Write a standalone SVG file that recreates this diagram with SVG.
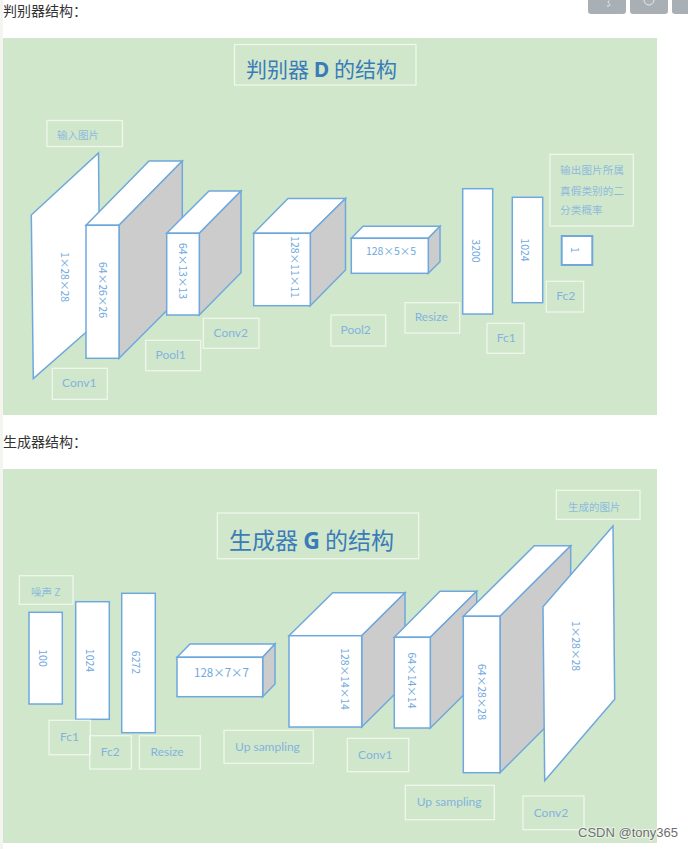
<svg xmlns="http://www.w3.org/2000/svg" width="688" height="849" viewBox="0 0 688 849">
<style>
.panel{fill:#d1e7cc}
.lbl{fill:none;stroke:#f1f7ee;stroke-width:1.2}
.s{stroke:#6fa8dc;stroke-width:1.5;stroke-linejoin:miter}
.w{fill:#fff}
.g{fill:#cccccc}
text{font-family:"Lato","Noto Sans CJK SC",sans-serif}
.t{font-size:12px;fill:#82b3de}
.c{font-size:10.5px;fill:#8cbbdc;font-family:"Noto Sans CJK SC",sans-serif}
.d{font-size:10.5px;fill:#6fa8dc;font-family:"Noto Sans CJK SC",sans-serif;text-anchor:middle;dominant-baseline:central}
.h{font-size:14px;fill:#333;font-family:"Noto Sans CJK SC",sans-serif}
.title{font-size:21px;fill:#3a7cb8;font-family:"Noto Sans CJK SC",sans-serif}
.title2{font-size:23px}
.b{font-weight:700}
.btn{fill:#a9b0b5}
</style>
<rect width="688" height="849" fill="#fff"/>
<rect width="3" height="849" fill="#f4f4f0"/>
<g id="toolbar">
<path class="btn" d="M588 0h38v11a3 3 0 0 1-3 3h-32a3 3 0 0 1-3-3z"/>
<path class="btn" d="M630 0h38v11a3 3 0 0 1-3 3h-32a3 3 0 0 1-3-3z"/>
<path class="btn" d="M672 0h16v14h-13a3 3 0 0 1-3-3z"/>
<path d="M609 0.5q-2 2 0 3t0 2.500h-2" fill="none" stroke="#e8eaec" stroke-width="1"/>
<path d="M644 0a5 5 0 0 0 10 0" fill="none" stroke="#e8eaec" stroke-width="1"/>
</g>
<text class="h" x="3" y="16">判别器结构：</text>
<text class="h" x="3" y="447">生成器结构：</text>
<rect class="panel" x="3" y="38" width="654" height="377"/>
<rect class="panel" x="3" y="469" width="654" height="374"/>

<g id="d-title"><rect class="lbl" x="234.500" y="44.500" width="181.500" height="40.500"/><text class="title" x="246" y="77">判别器 <tspan class="b" font-family="Open Sans">D</tspan> 的结构</text></g>
<g id="d-input"><rect class="lbl" x="47" y="120.500" width="75.500" height="26"/><text class="c" x="57" y="139">输入图片</text></g>
<g id="d-image"><polygon class="w s" points="31.300,215 98.500,153 100,320 33.300,378.500"/><text class="d" transform="rotate(90 65 277)" x="65" y="277">1×28×28</text></g>
<g id="d-conv1"><polygon class="w s" points="86,225.300 149,161 182.300,161 119,225.300"/><polygon class="g s" points="119,225.300 182.300,161 182.300,295 119,358.300"/><rect class="w s" x="86" y="225.300" width="33" height="133"/><text class="d" transform="rotate(90 103 290)" x="103" y="290">64×26×26</text></g>
<g id="d-pool1"><polygon class="w s" points="166.700,233.300 209,191 241,191 199.300,233.300"/><polygon class="g s" points="199.300,233.300 241,191 241,272.700 199.300,315"/><rect class="w s" x="166.700" y="233.300" width="32.600" height="81.700"/><text class="d" transform="rotate(90 183 271)" x="183" y="271">64×13×13</text></g>
<g id="d-conv2"><polygon class="w s" points="253.700,233.300 288,198.500 345.500,198.500 310.300,233.300"/><polygon class="g s" points="310.300,233.300 345.500,198.500 345.500,270 310.300,305.700"/><rect class="w s" x="253.700" y="233.300" width="56.600" height="72.400"/><text class="d" transform="rotate(90 295 267)" x="295" y="267">128×11×11</text></g>
<g id="d-pool2"><polygon class="w s" points="351.300,238.300 363,226.300 440,226.300 428.300,238.300"/><polygon class="g s" points="428.300,238.300 440,226.300 440,261.700 428.300,273.300"/><rect class="w s" x="351.300" y="238.300" width="77" height="35"/><text class="d" x="391" y="250">128×5×5</text></g>
<g id="d-3200"><rect class="w s" x="462.700" y="188.700" width="30" height="125.300"/><text class="d" transform="rotate(90 476 251)" x="476" y="251">3200</text></g>
<g id="d-1024"><rect class="w s" x="512.300" y="197.300" width="30.400" height="105.400"/><text class="d" transform="rotate(90 525 250)" x="525" y="250">1024</text></g>
<g id="d-1"><rect class="w s" x="561.700" y="236" width="30.600" height="29" style="stroke-width:2"/><text class="d" transform="rotate(90 575 250)" x="575" y="250">1</text></g>
<g id="d-output"><rect class="lbl" x="550" y="154.300" width="83.300" height="71.700"/><text class="c" x="560" y="174" style="letter-spacing:0.200px">输出图片所属</text><text class="c" x="560" y="195" style="letter-spacing:0.200px">真假类别的二</text><text class="c" x="560" y="214" style="letter-spacing:0.200px">分类概率</text></g>
<g id="d-l-conv1"><rect class="lbl" x="52.300" y="368.300" width="55" height="31"/><text class="t" x="62" y="387">Conv1</text></g>
<g id="d-l-pool1"><rect class="lbl" x="145.700" y="340.300" width="55" height="30.400"/><text class="t" x="155.500" y="359">Pool1</text></g>
<g id="d-l-conv2"><rect class="lbl" x="203.300" y="318.300" width="55.700" height="30"/><text class="t" x="213.500" y="337">Conv2</text></g>
<g id="d-l-pool2"><rect class="lbl" x="331" y="315" width="54.700" height="31"/><text class="t" x="340.500" y="334">Pool2</text></g>
<g id="d-l-resize"><rect class="lbl" x="405" y="302.700" width="54.700" height="30.300"/><text class="t" x="414.700" y="321">Resize</text></g>
<g id="d-l-fc1"><rect class="lbl" x="487" y="323.300" width="37" height="30"/><text class="t" x="496.700" y="342">Fc1</text></g>
<g id="d-l-fc2"><rect class="lbl" x="546.300" y="281.300" width="37.400" height="30.700"/><text class="t" x="556.300" y="300">Fc2</text></g>

<g id="g-title"><rect class="lbl" x="217.300" y="513" width="201.400" height="45.700"/><text class="title title2" x="229" y="549">生成器 <tspan class="b" font-family="Open Sans">G</tspan> 的结构</text></g>
<g id="g-noise"><rect class="lbl" x="19.300" y="575.700" width="53.700" height="28.600"/><text class="c" x="31" y="596">噪声 Z</text></g>
<g id="g-100"><rect class="w s" x="29" y="612.300" width="33.300" height="91.700"/><text class="d" transform="rotate(90 43.500 658)" x="43.500" y="658">100</text></g>
<g id="g-1024"><rect class="w s" x="75.700" y="601.700" width="33.600" height="117.600"/><text class="d" transform="rotate(90 90 660.500)" x="90" y="660.500">1024</text></g>
<g id="g-6272"><rect class="w s" x="121.700" y="593.300" width="33.600" height="139.400"/><text class="d" transform="rotate(90 136 662.500)" x="136" y="662.500">6272</text></g>
<g id="g-resize"><polygon class="w s" points="177,657.300 190,644 275,644 262.700,657.300"/><polygon class="g s" points="262.700,657.300 275,644 275,684 262.700,696.700"/><rect class="w s" x="177" y="657.300" width="85.700" height="39.400"/><text class="d" x="221.500" y="671.500" style="font-size:11.500px">128×7×7</text></g>
<g id="g-up1"><polygon class="w s" points="289,635.700 332.700,592.700 405,592.700 361.700,635.700"/><polygon class="g s" points="361.700,635.700 405,592.700 405,684 361.700,727"/><rect class="w s" x="289" y="635.700" width="72.700" height="91.300"/><text class="d" transform="rotate(90 345.500 679)" x="345.500" y="679">128×14×14</text></g>
<g id="g-conv1"><polygon class="w s" points="394.300,637.300 440,591.300 476.700,591.300 430.300,637.300"/><polygon class="g s" points="430.300,637.300 476.700,591.300 476.700,682 430.300,728"/><rect class="w s" x="394.300" y="637.300" width="36" height="90.700"/><text class="d" transform="rotate(90 412.500 680.500)" x="412.500" y="680.500">64×14×14</text></g>
<g id="g-up2"><polygon class="w s" points="463.300,616.300 534.300,545.700 570.700,545.700 500,616.300"/><polygon class="g s" points="500,616.300 570.700,545.700 570.700,702 500,772.700"/><rect class="w s" x="463.300" y="616.300" width="36.700" height="156.400"/><text class="d" transform="rotate(90 482.700 692)" x="482.700" y="692">64×28×28</text></g>
<g id="g-image"><polygon class="w s" points="543,606.700 613,526 614.700,699.300 544.700,780.700"/><text class="d" transform="rotate(90 576.500 646)" x="576.500" y="646">1×28×28</text></g>
<g id="g-output"><rect class="lbl" x="556.300" y="490.300" width="83.700" height="29"/><text class="c" x="568" y="511">生成的图片</text></g>
<g id="g-l-fc1"><rect class="lbl" x="49" y="720.300" width="41.300" height="34.400"/><text class="t" x="60" y="741">Fc1</text></g>
<g id="g-l-fc2"><rect class="lbl" x="89.700" y="735.700" width="41.600" height="33.300"/><text class="t" x="100.700" y="756">Fc2</text></g>
<g id="g-l-resize"><rect class="lbl" x="139.300" y="735.700" width="61" height="33.300"/><text class="t" x="150.500" y="756">Resize</text></g>
<g id="g-l-up1"><rect class="lbl" x="224" y="730.300" width="89.300" height="33"/><text class="t" x="235" y="751">Up sampling</text></g>
<g id="g-l-conv1"><rect class="lbl" x="347.300" y="738.300" width="61.400" height="33.400"/><text class="t" x="358" y="759">Conv1</text></g>
<g id="g-l-up2"><rect class="lbl" x="405.300" y="785.300" width="89" height="34.400"/><text class="t" x="416.700" y="806">Up sampling</text></g>
<g id="g-l-conv2"><rect class="lbl" x="523" y="796" width="61" height="33.700"/><text class="t" x="533.700" y="817">Conv2</text></g>
<text x="578" y="837" style="font-family:'Liberation Sans',sans-serif;font-size:13px;fill:#6f6f6f;paint-order:stroke;stroke:#ffffff;stroke-opacity:.5;stroke-width:2px">CSDN @tony365</text>
</svg>
